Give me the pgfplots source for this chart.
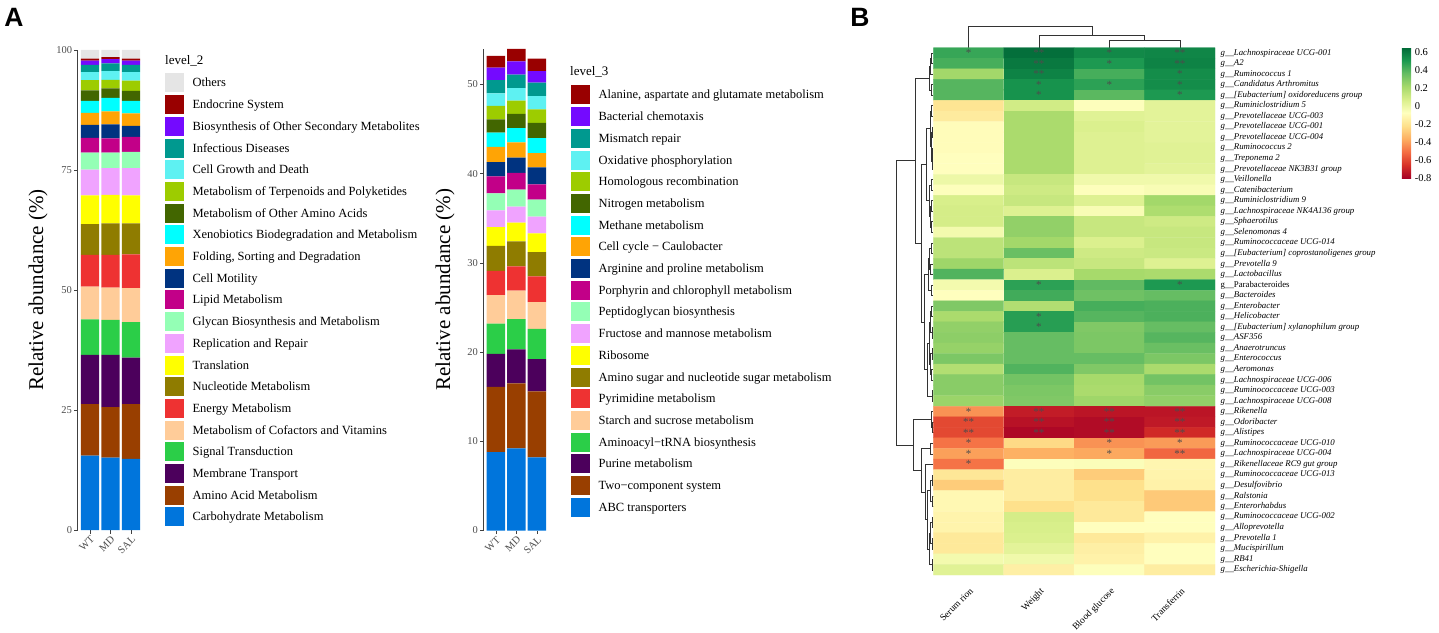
\documentclass[border=0pt]{standalone}
\usepackage{fontspec}
\setmainfont{Liberation Serif}
\newfontfamily\sansbold{Liberation Sans}
\usepackage{pgfplots}
\pgfplotsset{compat=1.18}
\newcommand{\fs}[1]{\fontsize{#1}{#1}\selectfont}
\definecolor{k01}{HTML}{0075DC}
\definecolor{k02}{HTML}{993F00}
\definecolor{k03}{HTML}{4C005C}
\definecolor{k04}{HTML}{2BCE48}
\definecolor{k05}{HTML}{FFCC99}
\definecolor{k06}{HTML}{EE3232}
\definecolor{k07}{HTML}{8F7C00}
\definecolor{k08}{HTML}{FFFF00}
\definecolor{k09}{HTML}{F0A3FF}
\definecolor{k10}{HTML}{94FFB5}
\definecolor{k11}{HTML}{C20088}
\definecolor{k12}{HTML}{003380}
\definecolor{k13}{HTML}{FFA405}
\definecolor{k14}{HTML}{00FFFF}
\definecolor{k15}{HTML}{426600}
\definecolor{k16}{HTML}{9DCC00}
\definecolor{k17}{HTML}{5EF1F2}
\definecolor{k18}{HTML}{00998F}
\definecolor{k19}{HTML}{740AFF}
\definecolor{k20}{HTML}{990000}
\definecolor{k21}{HTML}{E5E5E5}
\definecolor{tickgray}{HTML}{4D4D4D}
\pgfplotsset{
  barpanel/.style={
    scale only axis, anchor=south west,
    xmin=0.4, xmax=3.6, ymin=0,
    ybar stacked, bar width=0.9,
    axis y line*=left, axis x line*=bottom,
    x axis line style={draw=none},
    y axis line style={black!75, line width=0.8pt},
    tick align=outside, major tick length=3.5pt,
    tick style={black!75, line width=0.7pt},
    xtick={1,2,3}, xticklabels={WT,MD,SAL},
    /pgf/number format/assume math mode=true,
    ticklabel style={font=\fs{10.5}, text=tickgray},
    xticklabel style={rotate=45, anchor=north east, inner sep=1pt},
    yticklabel style={inner sep=2pt},
    ylabel={Relative abundance (\%)},
    ylabel style={font=\fs{21}, anchor=center},
    legend cell align=left,
    reverse legend,
    legend image code/.code={\fill[##1] (0pt,-9.5pt) rectangle (19pt,9.5pt);},
    legend style={draw=none, fill=none, inner sep=0pt, row sep=2.7pt,
      font=\fs{12.5}, anchor=north west,
      nodes={inner sep=0pt, text height=13.5pt, text depth=5.5pt},
      /tikz/every odd column/.append style={column sep=8.4pt}},
  }
}
\begin{document}
\begin{tikzpicture}
\path[use as bounding box] (0,0) rectangle (1439pt,632pt);

% overlay axis in pixel coordinates (dendrograms, panel letters, legend titles)
\begin{axis}[at={(0pt,0pt)}, anchor=south west, width=1439pt, height=632pt, scale only axis,
  xmin=0, xmax=1439, ymin=0, ymax=632, y dir=reverse, hide axis, clip=false]
\addplot[black!80, line width=0.6pt, unbounded coords=jump] coordinates {
(933,52.95) (931.5,52.95) (931.5,63.5) (933,63.5) (nan,nan)
(931.5,58.2) (930.5,58.2) (930.5,74.05) (933,74.05) (nan,nan)
(933,84.6) (931.5,84.6) (931.5,95.15) (933,95.15) (nan,nan)
(930.5,66.1) (929.5,66.1) (929.5,89.9) (931.5,89.9) (nan,nan)
(933,105.7) (931.5,105.7) (931.5,116.25) (933,116.25) (nan,nan)
(933,126.8) (932.3,126.8) (932.3,137.35) (933,137.35) (nan,nan)
(933,147.9) (932.3,147.9) (932.3,158.45) (933,158.45) (nan,nan)
(932.3,153.18) (931.8,153.18) (931.8,169.0) (933,169.0) (nan,nan)
(932.3,132.08) (931.2,132.08) (931.2,161.09) (931.8,161.09) (nan,nan)
(931.5,110.98) (930.3,110.98) (930.3,146.58) (931.2,146.58) (nan,nan)
(933,179.55) (931,179.55) (931,190.1) (933,190.1) (nan,nan)
(933,200.65) (931,200.65) (931,211.2) (933,211.2) (nan,nan)
(933,221.75) (931.5,221.75) (931.5,232.3) (933,232.3) (nan,nan)
(931,205.93) (930,205.93) (930,227.03) (931.5,227.03) (nan,nan)
(931,184.83) (929,184.83) (929,216.48) (930,216.48) (nan,nan)
(930.3,128.78) (926.7,128.78) (926.7,200.65) (929,200.65) (nan,nan)
(933,242.85) (931,242.85) (931,253.4) (933,253.4) (nan,nan)
(933,263.95) (930,263.95) (930,274.5) (933,274.5) (nan,nan)
(931,248.13) (929.3,248.13) (929.3,269.23) (930,269.23) (nan,nan)
(933,285.05) (931,285.05) (931,295.6) (933,295.6) (nan,nan)
(929.3,258.68) (928,258.68) (928,290.33) (931,290.33) (nan,nan)
(933,306.15) (931.5,306.15) (931.5,316.7) (933,316.7) (nan,nan)
(933,327.25) (932,327.25) (932,337.8) (933,337.8) (nan,nan)
(931.5,311.43) (930,311.43) (930,332.53) (932,332.53) (nan,nan)
(933,348.35) (932,348.35) (932,358.9) (933,358.9) (nan,nan)
(933,369.45) (931.5,369.45) (931.5,380) (933,380) (nan,nan)
(932,353.63) (930.5,353.63) (930.5,374.73) (931.5,374.73) (nan,nan)
(930,321.98) (929,321.98) (929,364.18) (930.5,364.18) (nan,nan)
(933,390.55) (932,390.55) (932,401.1) (933,401.1) (nan,nan)
(929,343.08) (927,343.08) (927,395.83) (932,395.83) (nan,nan)
(928,274.5) (924,274.5) (924,369.45) (927,369.45) (nan,nan)
(926.7,164.72) (921.7,164.72) (921.7,321.98) (924,321.98) (nan,nan)
(929.5,78.0) (915.7,78.0) (915.7,243.35) (921.7,243.35) (nan,nan)
(933,422.2) (932.5,422.2) (932.5,432.75) (933,432.75) (nan,nan)
(933,411.65) (931.7,411.65) (931.7,427.48) (932.5,427.48) (nan,nan)
(933,443.3) (930,443.3) (930,453.85) (933,453.85) (nan,nan)
(933,474.95) (932,474.95) (932,485.5) (933,485.5) (nan,nan)
(933,496.05) (932.5,496.05) (932.5,506.6) (933,506.6) (nan,nan)
(932,480.23) (930,480.23) (930,501.33) (932.5,501.33) (nan,nan)
(933,517.15) (932,517.15) (932,527.7) (933,527.7) (nan,nan)
(933,538.25) (932,538.25) (932,548.8) (933,548.8) (nan,nan)
(932,522.43) (930.5,522.43) (930.5,543.53) (932,543.53) (nan,nan)
(933,559.35) (932,559.35) (932,569.9) (933,569.9) (nan,nan)
(930.5,532.98) (929,532.98) (929,564.63) (932,564.63) (nan,nan)
(930,490.78) (927,490.78) (927,548.8) (929,548.8) (nan,nan)
(933,464.4) (925,464.4) (925,519.79) (927,519.79) (nan,nan)
(930,448.58) (921.7,448.58) (921.7,492.1) (925,492.1) (nan,nan)
(931.7,419.56) (913,419.56) (913,470.34) (921.7,470.34) (nan,nan)
(915.7,160.68) (896,160.68) (896,444.95) (913,444.95)
};
\addplot[black!80, line width=0.6pt, unbounded coords=jump] coordinates {
(968.5,47.7) (968.5,26) (1091.9,26) (1091.9,35.7) (nan,nan)
(1039,47.7) (1039,35.7) (1144.75,35.7) (1144.75,40.7) (nan,nan)
(1109.5,47.7) (1109.5,40.7) (1180,40.7) (1180,47.7)
};
\node[font=\sansbold\bfseries\fs{26.5}] at (axis cs:14,17) {A};
\node[font=\sansbold\bfseries\fs{26.5}] at (axis cs:860,17) {B};
\node[font=\fs{13}, anchor=west, inner sep=0pt] at (axis cs:165,61) {level\_2};
\node[font=\fs{13}, anchor=west, inner sep=0pt] at (axis cs:570,72) {level\_3};
\end{axis}

% Panel A, level 2
\begin{axis}[barpanel, at={(77.7pt,102pt)}, width=65.6pt, height=480pt, ymax=100,
  ytick={0,25,50,75,100},
  ylabel style={at={(axis description cs:-0.605,0.5)}},
  legend style={at={(axis description cs:1.3308,0.9515)}}]
\addplot[fill=k01, draw=none] coordinates {(1,15.5) (2,15.1) (3,14.8)}; \addlegendentry{Carbohydrate Metabolism}
\addplot[fill=k02, draw=none] coordinates {(1,10.7) (2,10.5) (3,11.4)}; \addlegendentry{Amino Acid Metabolism}
\addplot[fill=k03, draw=none] coordinates {(1,10.3) (2,10.9) (3,9.7)}; \addlegendentry{Membrane Transport}
\addplot[fill=k04, draw=none] coordinates {(1,7.4) (2,7.3) (3,7.4)}; \addlegendentry{Signal Transduction}
\addplot[fill=k05, draw=none] coordinates {(1,6.8) (2,6.7) (3,7.1)}; \addlegendentry{Metabolism of Cofactors and Vitamins}
\addplot[fill=k06, draw=none] coordinates {(1,6.6) (2,6.8) (3,7.0)}; \addlegendentry{Energy Metabolism}
\addplot[fill=k07, draw=none] coordinates {(1,6.4) (2,6.6) (3,6.5)}; \addlegendentry{Nucleotide Metabolism}
\addplot[fill=k08, draw=none] coordinates {(1,6.0) (2,5.9) (3,5.8)}; \addlegendentry{Translation}
\addplot[fill=k09, draw=none] coordinates {(1,5.4) (2,5.6) (3,5.7)}; \addlegendentry{Replication and Repair}
\addplot[fill=k10, draw=none] coordinates {(1,3.5) (2,3.2) (3,3.4)}; \addlegendentry{Glycan Biosynthesis and Metabolism}
\addplot[fill=k11, draw=none] coordinates {(1,3.1) (2,3.0) (3,3.1)}; \addlegendentry{Lipid Metabolism}
\addplot[fill=k12, draw=none] coordinates {(1,2.7) (2,2.9) (3,2.3)}; \addlegendentry{Cell Motility}
\addplot[fill=k13, draw=none] coordinates {(1,2.5) (2,2.7) (3,2.6)}; \addlegendentry{Folding, Sorting and Degradation}
\addplot[fill=k14, draw=none] coordinates {(1,2.5) (2,2.8) (3,2.6)}; \addlegendentry{Xenobiotics Biodegradation and Metabolism}
\addplot[fill=k15, draw=none] coordinates {(1,2.2) (2,2.0) (3,2.1)}; \addlegendentry{Metabolism of Other Amino Acids}
\addplot[fill=k16, draw=none] coordinates {(1,2.1) (2,1.8) (3,2.1)}; \addlegendentry{Metabolism of Terpenoids and Polyketides}
\addplot[fill=k17, draw=none] coordinates {(1,1.7) (2,1.8) (3,1.8)}; \addlegendentry{Cell Growth and Death}
\addplot[fill=k18, draw=none] coordinates {(1,1.5) (2,1.6) (3,1.5)}; \addlegendentry{Infectious Diseases}
\addplot[fill=k19, draw=none] coordinates {(1,0.9) (2,0.9) (3,0.9)}; \addlegendentry{Biosynthesis of Other Secondary Metabolites}
\addplot[fill=k20, draw=none] coordinates {(1,0.4) (2,0.4) (3,0.4)}; \addlegendentry{Endocrine System}
\addplot[fill=k21, draw=none] coordinates {(1,1.8) (2,1.5) (3,1.8)}; \addlegendentry{Others}
\end{axis}

% Panel A, level 3
\begin{axis}[barpanel, at={(483.6pt,101.5pt)}, width=65.7pt, height=481.7pt, ymax=54,
  ytick={0,10,20,30,40,50},
  ylabel style={at={(axis description cs:-0.5875,0.5)}},
  legend style={at={(axis description cs:1.330,0.9244)}}]
\addplot[fill=k01, draw=none] coordinates {(1,8.8) (2,9.2) (3,8.2)}; \addlegendentry{ABC transporters}
\addplot[fill=k02, draw=none] coordinates {(1,7.3) (2,7.3) (3,7.4)}; \addlegendentry{Two−component system}
\addplot[fill=k03, draw=none] coordinates {(1,3.7) (2,3.8) (3,3.6)}; \addlegendentry{Purine metabolism}
\addplot[fill=k04, draw=none] coordinates {(1,3.4) (2,3.4) (3,3.4)}; \addlegendentry{Aminoacyl−tRNA biosynthesis}
\addplot[fill=k05, draw=none] coordinates {(1,3.2) (2,3.2) (3,3.0)}; \addlegendentry{Starch and sucrose metabolism}
\addplot[fill=k06, draw=none] coordinates {(1,2.7) (2,2.7) (3,2.9)}; \addlegendentry{Pyrimidine metabolism}
\addplot[fill=k07, draw=none] coordinates {(1,2.8) (2,2.8) (3,2.7)}; \addlegendentry{Amino sugar and nucleotide sugar metabolism}
\addplot[fill=k08, draw=none] coordinates {(1,2.1) (2,2.1) (3,2.1)}; \addlegendentry{Ribosome}
\addplot[fill=k09, draw=none] coordinates {(1,1.9) (2,1.8) (3,1.9)}; \addlegendentry{Fructose and mannose metabolism}
\addplot[fill=k10, draw=none] coordinates {(1,1.9) (2,1.9) (3,1.9)}; \addlegendentry{Peptidoglycan biosynthesis}
\addplot[fill=k11, draw=none] coordinates {(1,1.9) (2,1.9) (3,1.7)}; \addlegendentry{Porphyrin and chlorophyll metabolism}
\addplot[fill=k12, draw=none] coordinates {(1,1.6) (2,1.7) (3,1.9)}; \addlegendentry{Arginine and proline metabolism}
\addplot[fill=k13, draw=none] coordinates {(1,1.7) (2,1.7) (3,1.6)}; \addlegendentry{Cell cycle − Caulobacter}
\addplot[fill=k14, draw=none] coordinates {(1,1.6) (2,1.6) (3,1.7)}; \addlegendentry{Methane metabolism}
\addplot[fill=k15, draw=none] coordinates {(1,1.5) (2,1.6) (3,1.7)}; \addlegendentry{Nitrogen metabolism}
\addplot[fill=k16, draw=none] coordinates {(1,1.5) (2,1.5) (3,1.5)}; \addlegendentry{Homologous recombination}
\addplot[fill=k17, draw=none] coordinates {(1,1.4) (2,1.4) (3,1.5)}; \addlegendentry{Oxidative phosphorylation}
\addplot[fill=k18, draw=none] coordinates {(1,1.5) (2,1.5) (3,1.5)}; \addlegendentry{Mismatch repair}
\addplot[fill=k19, draw=none] coordinates {(1,1.4) (2,1.5) (3,1.3)}; \addlegendentry{Bacterial chemotaxis}
\addplot[fill=k20, draw=none] coordinates {(1,1.3) (2,1.4) (3,1.4)}; \addlegendentry{Alanine, aspartate and glutamate metabolism}
\end{axis}

% Panel B heatmap
\begin{axis}[at={(933.3pt,57pt)}, anchor=south west, width=281.7pt, height=527.3pt, scale only axis,
  xmin=0.5, xmax=4.5, ymin=0.5, ymax=50.5, y dir=reverse, enlargelimits=false,
  axis line style={draw=none}, major tick length=0pt,
  xtick={1,2,3,4}, xticklabels={Serum rion,Weight,Blood glucose,Transferrin},
  xticklabel style={rotate=45, anchor=north east, font=\fs{9.5}, inner sep=1pt, yshift=-8pt, xshift=-7pt},
  ytick={1,...,50}, yticklabel pos=right,
  yticklabel style={font=\fs{8.8}\itshape, anchor=west, inner sep=0pt, xshift=5.5pt},
  yticklabels={
    {g\_\_Lachnospiraceae UCG-001},{g\_\_A2},{g\_\_Ruminococcus 1},{g\_\_Candidatus Arthromitus},
    {g\_\_[Eubacterium] oxidoreducens group},{g\_\_Ruminiclostridium 5},{g\_\_Prevotellaceae UCG-003},
    {g\_\_Prevotellaceae UCG-001},{g\_\_Prevotellaceae UCG-004},{g\_\_Ruminococcus 2},{g\_\_Treponema 2},
    {g\_\_Prevotellaceae NK3B31 group},{g\_\_Veillonella},{g\_\_Catenibacterium},{g\_\_Ruminiclostridium 9},
    {g\_\_Lachnospiraceae NK4A136 group},{g\_\_Sphaerotilus},{g\_\_Selenomonas 4},{g\_\_Ruminococcaceae UCG-014},
    {g\_\_[Eubacterium] coprostanoligenes group},{g\_\_Prevotella 9},{g\_\_Lactobacillus},
    {\upshape g\_\_Parabacteroides},{g\_\_Bacteroides},{g\_\_Enterobacter},{g\_\_Helicobacter},
    {g\_\_[Eubacterium] xylanophilum group},{g\_\_ASF356},{g\_\_Anaerotruncus},{g\_\_Enterococcus},
    {g\_\_Aeromonas},{g\_\_Lachnospiraceae UCG-006},{g\_\_Ruminococcaceae UCG-003},{g\_\_Lachnospiraceae UCG-008},
    {g\_\_Rikenella},{g\_\_Odoribacter},{g\_\_Alistipes},{g\_\_Ruminococcaceae UCG-010},{g\_\_Lachnospiraceae UCG-004},
    {g\_\_Rikenellaceae RC9 gut group},{g\_\_Ruminococcaceae UCG-013},{g\_\_Desulfovibrio},{g\_\_Ralstonia},
    {g\_\_Enterorhabdus},{g\_\_Ruminococcaceae UCG-002},{g\_\_Alloprevotella},{g\_\_Prevotella 1},
    {g\_\_Mucispirillum},{g\_\_RB41},{g\_\_Escherichia-Shigella}},
  colormap={rdylgn}{rgb255=(165,0,38) rgb255=(215,48,39) rgb255=(244,109,67) rgb255=(253,174,97)
    rgb255=(254,224,139) rgb255=(255,255,191) rgb255=(217,239,139) rgb255=(166,217,106)
    rgb255=(102,189,99) rgb255=(26,152,80) rgb255=(0,104,55)},
  point meta min=-0.805, point meta max=0.65,
  colorbar,
  colorbar style={at={(parent axis.north east)}, anchor=north west, xshift=178.3pt, yshift=0.4pt,
    width=9.3pt, height=131pt, scale only axis,
    axis line style={draw=none}, major tick length=0pt,
    ytick={-0.8,-0.6,-0.4,-0.2,0,0.2,0.4,0.6},
    yticklabels={-0.8,-0.6,-0.4,-0.2,0,0.2,0.4,0.6},
    yticklabel style={font=\fs{10.5}, anchor=west, inner sep=0pt, xshift=3.5pt}}
]
\addplot[matrix plot*, mesh/cols=4, point meta=explicit] table[meta=c] {
x y c
1 1 0.45
2 1 0.63
3 1 0.55
4 1 0.56
1 2 0.42
2 2 0.60
3 2 0.50
4 2 0.57
1 3 0.22
2 3 0.57
3 3 0.42
4 3 0.54
1 4 0.39
2 4 0.52
3 4 0.47
4 4 0.54
1 5 0.39
2 5 0.52
3 5 0.38
4 5 0.50
1 6 -0.20
2 6 0.09
3 6 -0.07
4 6 0.03
1 7 -0.17
2 7 0.20
3 7 0.04
4 7 0.03
1 8 -0.09
2 8 0.20
3 8 0.06
4 8 0.03
1 9 -0.09
2 9 0.20
3 9 0.05
4 9 0.03
1 10 -0.09
2 10 0.20
3 10 0.05
4 10 0.04
1 11 -0.08
2 11 0.20
3 11 0.05
4 11 0.04
1 12 -0.08
2 12 0.20
3 12 0.05
4 12 0.03
1 13 -0.01
2 13 0.12
3 13 -0.02
4 13 -0.02
1 14 -0.07
2 14 0.10
3 14 -0.07
4 14 -0.05
1 15 0.07
2 15 0.12
3 15 0.05
4 15 0.22
1 16 0.08
2 16 0.05
3 16 -0.05
4 16 0.19
1 17 0.08
2 17 0.26
3 17 0.12
4 17 0.10
1 18 -0.03
2 18 0.26
3 18 0.12
4 18 0.12
1 19 0.15
2 19 0.22
3 19 0.06
4 19 0.12
1 20 0.15
2 20 0.35
3 20 0.10
4 20 0.11
1 21 0.23
2 21 0.15
3 21 0.12
4 21 0.05
1 22 0.40
2 22 0.06
3 22 0.21
4 22 0.20
1 23 -0.03
2 23 0.47
3 23 0.37
4 23 0.50
1 24 -0.08
2 24 0.43
3 24 0.34
4 24 0.36
1 25 0.30
2 25 0.18
3 25 0.42
4 25 0.41
1 26 0.20
2 26 0.48
3 26 0.39
4 26 0.41
1 27 0.26
2 27 0.48
3 27 0.30
4 27 0.36
1 28 0.27
2 28 0.36
3 28 0.31
4 28 0.39
1 29 0.25
2 29 0.36
3 29 0.31
4 29 0.35
1 30 0.31
2 30 0.36
3 30 0.36
4 30 0.31
1 31 0.18
2 31 0.40
3 31 0.30
4 31 0.20
1 32 0.28
2 32 0.33
3 32 0.21
4 32 0.33
1 33 0.28
2 33 0.31
3 33 0.20
4 33 0.28
1 34 0.24
2 34 0.30
3 34 0.23
4 34 0.26
1 35 -0.43
2 35 -0.72
3 35 -0.74
4 35 -0.74
1 36 -0.60
2 36 -0.75
3 36 -0.77
4 36 -0.73
1 37 -0.60
2 37 -0.78
3 37 -0.77
4 37 -0.68
1 38 -0.50
2 38 -0.24
3 38 -0.43
4 38 -0.41
1 39 -0.40
2 39 -0.36
3 39 -0.38
4 39 -0.53
1 40 -0.50
2 40 -0.07
3 40 -0.06
4 40 -0.12
1 41 -0.19
2 41 -0.16
3 41 -0.28
4 41 -0.13
1 42 -0.28
2 42 -0.16
3 42 -0.22
4 42 -0.14
1 43 -0.11
2 43 -0.16
3 43 -0.22
4 43 -0.29
1 44 -0.11
2 44 -0.22
3 44 -0.18
4 44 -0.29
1 45 -0.13
2 45 0.08
3 45 -0.18
4 45 -0.08
1 46 -0.13
2 46 0.07
3 46 -0.08
4 46 -0.08
1 47 -0.18
2 47 0.06
3 47 -0.18
4 47 -0.14
1 48 -0.18
2 48 0.03
3 48 -0.15
4 48 -0.08
1 49 -0.03
2 49 -0.02
3 49 -0.14
4 49 -0.08
1 50 0.04
2 50 -0.15
3 50 -0.07
4 50 -0.16
};
\addplot[only marks, mark=none, point meta=explicit symbolic, nodes near coords,
  nodes near coords align=center,
  nodes near coords style={font=\fs{11}, text=black!70, inner sep=0pt}] table[meta=s] {
x y s
1 1 *
2 1 **
3 1 *
4 1 **
2 2 **
3 2 *
4 2 **
2 3 **
4 3 *
2 4 *
3 4 *
4 4 *
2 5 *
4 5 *
2 23 *
4 23 *
2 26 *
2 27 *
1 35 *
2 35 **
3 35 **
4 35 **
1 36 **
2 36 **
3 36 **
4 36 **
1 37 **
2 37 **
3 37 **
4 37 **
1 38 *
3 38 *
4 38 *
1 39 *
3 39 *
4 39 **
1 40 *
};
\end{axis}
\end{tikzpicture}
\end{document}
